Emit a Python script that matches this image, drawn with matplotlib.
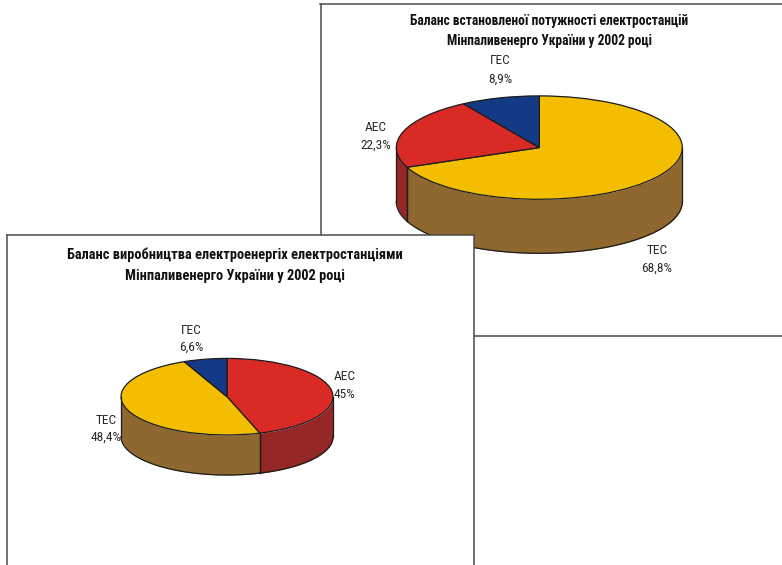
import numpy as np
import matplotlib
matplotlib.use("Agg")
import matplotlib.pyplot as plt

W, H = 782, 565

plt.rcParams["font.family"] = ["Roboto Condensed", "IBM Plex Sans Condensed", "Liberation Sans", "DejaVu Sans"]

names_capacity = ["ТЕС", "АЕС", "ГЕС"]
share_capacity = [68.8, 22.3, 8.9]
labels_capacity = ["68,8%", "22,3%", "8,9%"]
colors_capacity = ["#F4BE00", "#DA2A26", "#153A85"]
walls_capacity = ["#8F6830", "#952726", "#0E2A60"]
title_capacity = ["Баланс встановленої потужності електростанцій",
                  "Мінпаливенерго України у 2002 році"]

names_output = ["АЕС", "ТЕС", "ГЕС"]
share_output = [45, 48.4, 6.6]
labels_output = ["45%", "48,4%", "6,6%"]
colors_output = ["#DA2A26", "#F4BE00", "#153A85"]
walls_output = ["#952726", "#8F6830", "#0E2A60"]
title_output = ["Баланс виробництва електроенергіх електростанціями",
                "Мінпаливенерго України у 2002 році"]

EDGE = "#1c1c1c"
FRAME = "#4a4a4a"

fig = plt.figure(figsize=(W / 100, H / 100), dpi=100, facecolor="white")


def pixel_axes(x0, y0, x1, y1, z):
    # axes placed by pixel box, y measured from the top of the figure
    return fig.add_axes([x0 / W, 1 - y1 / H, (x1 - x0) / W, (y1 - y0) / H], zorder=z)


def panel(x0, y0, x1, y1, z, title, title_x, title_y, title_size):
    ax = pixel_axes(x0, y0, x1, y1, z)
    ax.set_xlim(x0, x1)
    ax.set_ylim(y1, y0)
    ax.set_xticks([])
    ax.set_yticks([])
    ax.set_facecolor("white")
    for s in ax.spines.values():
        s.set_color(FRAME)
        s.set_linewidth(1.1)
    for line, y in zip(title, title_y):
        ax.text(title_x, y, line, ha="center", va="center", fontsize=title_size,
                fontweight="bold", color="#111111")
    return ax


def pie3d(cx, cy, rx, ry, depth, z, values, colors, walls):
    d = depth / ry
    ax = pixel_axes(cx - rx, cy - ry, cx + rx, cy + ry + depth, z)
    ax.patch.set_alpha(0)

    # side walls go first, only the front half of each slice shows
    bounds = 90 - np.cumsum([0] + list(values)) * 3.6
    for a, b, wall in zip(bounds[:-1], bounds[1:], walls):
        lo, hi = max(b, -180), min(a, 0)
        if hi <= lo:
            continue
        t = np.radians(np.linspace(lo, hi, 120))
        ax.fill_between(np.cos(t), np.sin(t), np.sin(t) - d, color=wall, lw=0, clip_on=False)
        ax.plot(np.cos(t), np.sin(t) - d, color=EDGE, lw=0.9, clip_on=False)
        for e in (lo, hi):
            te = np.radians(e)
            ax.plot([np.cos(te)] * 2, [np.sin(te), np.sin(te) - d], color=EDGE, lw=0.9, clip_on=False)

    ax.pie(values, colors=colors, startangle=90, counterclock=False, radius=1,
           wedgeprops={"edgecolor": EDGE, "linewidth": 0.9, "clip_on": False})
    ax.set_aspect("auto")
    ax.set_xlim(-1, 1)
    ax.set_ylim(-1 - d, 1)
    ax.axis("off")
    return ax


def label(ax, x, y, name, value):
    ax.text(x, y[0], name, ha="center", va="center", fontsize=9.6, color="#2a2a2a")
    ax.text(x, y[1], value, ha="center", va="center", fontsize=9.6, color="#2a2a2a")


# installed capacity, back panel
back = panel(320.5, 4, 800, 335.5, 1, title_capacity, 549.5, (20.5, 40.5), 9.75)
pie3d(539.3, 147.6, 143, 51.7, 54, 2, share_capacity, colors_capacity, walls_capacity)
label(back, 657, (251, 268.5), names_capacity[0], labels_capacity[0])
label(back, 375.5, (127.5, 145), names_capacity[1], labels_capacity[1])
label(back, 500, (61, 79), names_capacity[2], labels_capacity[2])

# generation, front panel overlapping the first one
front = panel(6.5, 235, 473.5, 580, 3, title_output, 235, (255, 275.5), 10.4)
pie3d(227, 396.7, 106, 38.3, 40, 4, share_output, colors_output, walls_output)
label(front, 345, (376.5, 394), names_output[0], labels_output[0])
label(front, 106, (420, 437.5), names_output[1], labels_output[1])
label(front, 191.5, (330, 347.5), names_output[2], labels_output[2])

fig.savefig("out.png", dpi=100)
